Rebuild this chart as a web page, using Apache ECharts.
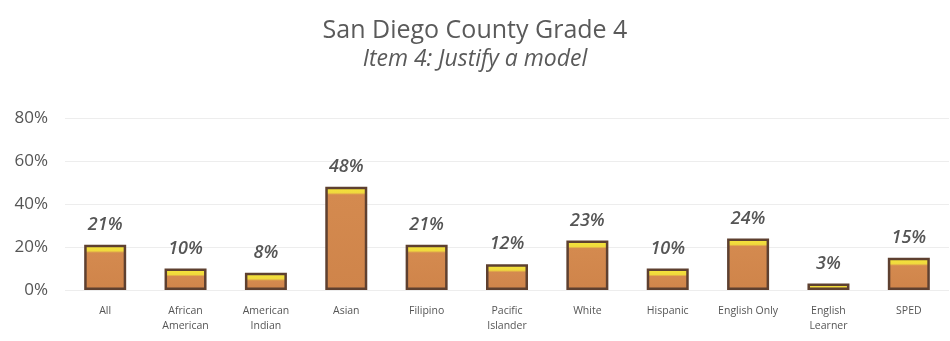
<!DOCTYPE html>
<html><head><meta charset="utf-8">
<script src="https://cdn.jsdelivr.net/npm/echarts@6/dist/echarts.min.js"></script>
<style>html,body{margin:0;padding:0;background:#fff}#c{width:950px;height:341px}</style>
</head><body><div id="c"></div>
<script>
const categories = ['All','African\nAmerican','American\nIndian','Asian','Filipino','Pacific\nIslander','White','Hispanic','English Only','English\nLearner','SPED'];
const values = [21,10,8,48,21,12,23,10,24,3,15];
const yTicks = [0,20,40,60,80];

const chart = echarts.init(document.getElementById('c'));
const font = '"Open Sans", "Liberation Sans", sans-serif';
const pxPerUnit = 172/80;
function barStyle(v){
  const h = Math.max(v*pxPerUnit,1);
  const a = Math.min(2/h,0.45), b = Math.min(6/h,0.6), c = Math.min(8/h,0.7);
  return {
    color:new echarts.graphic.LinearGradient(0,0,0,1,[
      {offset:0,color:'#d9b24a'},{offset:a,color:'#f4e33a'},{offset:b,color:'#f0d93e'},{offset:c,color:'#d48a4f'},{offset:1,color:'#cf844a'}
    ])
  };
}
chart.setOption({
  animation:false,
  title:{
    text:'San Diego County Grade 4',
    subtext:'Item 4: Justify a model',
    left:'center', top:13,
    itemGap:5,
    textStyle:{fontFamily:font,fontSize:25,fontWeight:'normal',color:'#5a5a5a'},
    subtextStyle:{fontFamily:font,fontSize:23,fontStyle:'italic',color:'#5a5a5a'}
  },
  grid:{left:65,right:1,top:118,bottom:51},
  xAxis:{
    type:'category', data:categories,
    axisLine:{show:false}, axisTick:{show:false},
    axisLabel:{fontFamily:font,fontSize:10.5,color:'#555',lineHeight:15,margin:14,interval:0}
  },
  yAxis:{
    type:'value', min:0, max:80, interval:20,
    axisLabel:{fontFamily:font,fontSize:17,color:'#555',margin:17,formatter:v=>yTicks.includes(v)?v+'%':''},
    splitLine:{lineStyle:{color:'#ededed'}},
    axisLine:{show:false}, axisTick:{show:false}
  },
  series:[{
    type:'bar',
    data:values.map(v=>({value:v,itemStyle:barStyle(v)})),
    barWidth:42,
    itemStyle:{borderColor:'#5e4030', borderWidth:2.5},
    label:{show:true,position:'top',distance:11,formatter:p=>p.value+'%',
      fontFamily:font,fontSize:18,fontStyle:'italic',fontWeight:600,color:'#555'}
  }]
});
</script></body></html>
